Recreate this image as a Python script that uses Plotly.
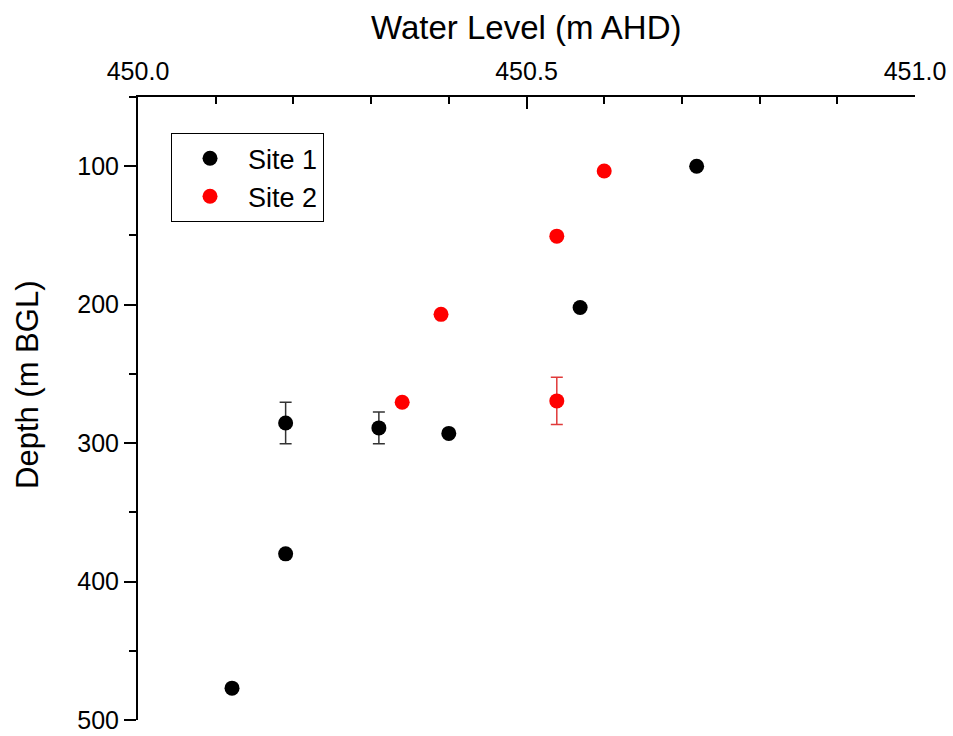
import plotly.graph_objects as go

# Site 1 (black)
site1_level = [450.719, 450.569, 450.190, 450.310, 450.400, 450.190, 450.121]
site1_depth = [100, 202, 285.5, 289, 293, 380, 477]
site1_err = [None, None, 15, 11.5, None, None, None]

# Site 2 (red)
site2_level = [450.600, 450.539, 450.390, 450.340, 450.539]
site2_depth = [103.5, 150.5, 207, 270.5, 269.5]
site2_err = [None, None, None, None, 17]

FONT = "Arial, Liberation Sans, sans-serif"

fig = go.Figure()
fig.add_trace(go.Scatter(
    x=site1_level, y=site1_depth, mode="markers", name="Site 1",
    marker=dict(color="black", size=15),
    error_y=dict(type="data", array=site1_err, color="#333333", thickness=1.5, width=6),
))
fig.add_trace(go.Scatter(
    x=site2_level, y=site2_depth, mode="markers", name="Site 2",
    marker=dict(color="#ff0000", size=15),
    error_y=dict(type="data", array=site2_err, color="#e03a3a", thickness=1.5, width=6),
))

fig.update_layout(
    width=953, height=736,
    margin=dict(l=138, r=38, t=97, b=16, autoexpand=False),
    paper_bgcolor="white", plot_bgcolor="white",
    font=dict(family=FONT, size=25, color="black"),
    showlegend=True,
    legend=dict(
        x=0.0425, y=0.942, xanchor="left", yanchor="top",
        bordercolor="black", borderwidth=1, bgcolor="white",
        font=dict(family=FONT, size=27, color="black"),
        itemwidth=66,
    ),
    xaxis=dict(
        side="top", range=[450, 451], dtick=0.5, tick0=450, tickformat=".1f",
        automargin=False,
        showgrid=False, zeroline=False, showline=True, linecolor="black", linewidth=2,
        ticks="inside", ticklen=12, tickwidth=2, tickcolor="black",
        ticklabelstandoff=5,
        minor=dict(dtick=0.1, ticks="inside", ticklen=7, tickwidth=2, tickcolor="black", showgrid=False),
        tickfont=dict(family=FONT, size=25, color="black"),
    ),
    yaxis=dict(
        range=[500, 50], dtick=100, tick0=0,
        automargin=False,
        showgrid=False, zeroline=False, showline=True, linecolor="black", linewidth=2,
        ticks="outside", ticklen=12, tickwidth=2, tickcolor="black",
        minor=dict(dtick=50, ticks="outside", ticklen=7, tickwidth=2, tickcolor="black", showgrid=False),
        tickfont=dict(family=FONT, size=25, color="black"),
    ),
    annotations=[
        dict(text="Water Level (m AHD)", xref="paper", yref="paper", x=0.5, y=1.111,
             xanchor="center", yanchor="middle", showarrow=False,
             font=dict(family=FONT, size=33, color="black")),
        dict(text="Depth (m BGL)", xref="paper", yref="paper", x=-0.1429, y=0.5377,
             xanchor="center", yanchor="middle", showarrow=False, textangle=-90,
             font=dict(family=FONT, size=31, color="black")),
    ],
)

fig.write_html(
    "out.html",
    config={"displayModeBar": False},
    post_script="document.body.style.margin='0';document.body.style.overflow='hidden';",
)
